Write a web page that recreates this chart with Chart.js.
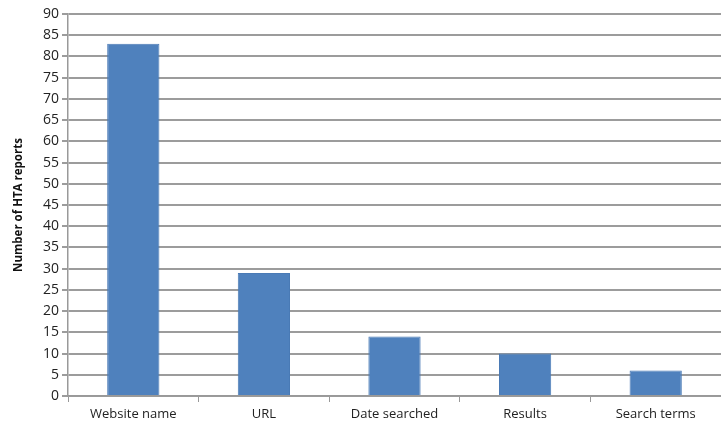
<!DOCTYPE html>
<html lang="en">
<head>
    <meta charset="UTF-8">
    <title>HTA reports</title>
    <script src="https://cdn.jsdelivr.net/npm/chart.js"></script>
    <style>
        html, body { margin: 0; padding: 0; background: #fff; }
        #chartContainer { width: 721px; height: 428px; }
    </style>
</head>
<body>
    <div id="chartContainer">
        <canvas id="reportsChart"></canvas>
    </div>
    <script>
        const categories = ['Website name', 'URL', 'Date searched', 'Results', 'Search terms'];
        const reportCounts = [83, 29, 14, 10, 6];
        const yTicks = [0, 5, 10, 15, 20, 25, 30, 35, 40, 45, 50, 55, 60, 65, 70, 75, 80, 85, 90];

        const ctx = document.getElementById('reportsChart').getContext('2d');

        new Chart(ctx, {
            type: 'bar',
            data: {
                labels: categories,
                datasets: [{
                    label: 'Number of HTA reports',
                    data: reportCounts,
                    backgroundColor: '#4f81bd',
                    borderColor: '#4a7ab5',
                    borderWidth: 1,
                    categoryPercentage: 1.0,
                    barPercentage: 0.4
                }]
            },
            options: {
                responsive: true,
                maintainAspectRatio: false,
                animation: false,
                layout: {
                    padding: { top: 14, right: 0, bottom: 0, left: 8 }
                },
                plugins: {
                    legend: { display: false },
                    tooltip: { enabled: false }
                },
                scales: {
                    x: {
                        grid: {
                            display: true,
                            offset: true,
                            drawOnChartArea: false,
                            drawTicks: true,
                            tickLength: 6,
                            color: '#999999'
                        },
                        border: { color: '#999999', width: 1.5 },
                        ticks: {
                            color: '#222222',
                            padding: 4,
                            maxRotation: 0,
                            font: { family: 'Open Sans', size: 13 }
                        },
                        afterFit(scale) { scale.height = 32; }
                    },
                    y: {
                        min: 0,
                        max: 90,
                        afterBuildTicks(scale) {
                            scale.ticks = yTicks.map(v => ({ value: v }));
                        },
                        grid: {
                            color: '#9c9c9c',
                            lineWidth: 2,
                            tickLength: 6
                        },
                        border: { color: '#999999', width: 1.5 },
                        ticks: {
                            color: '#222222',
                            padding: 3,
                            font: { family: 'Open Sans', size: 14 }
                        },
                        title: {
                            display: true,
                            text: 'Number of HTA reports',
                            color: '#111111',
                            font: { family: 'Open Sans', size: 11.5, weight: 'bold' },
                            padding: { top: 4, bottom: 4 }
                        },
                        afterFit(scale) { scale.width = 60; }
                    }
                }
            }
        });
    </script>
</body>
</html>
